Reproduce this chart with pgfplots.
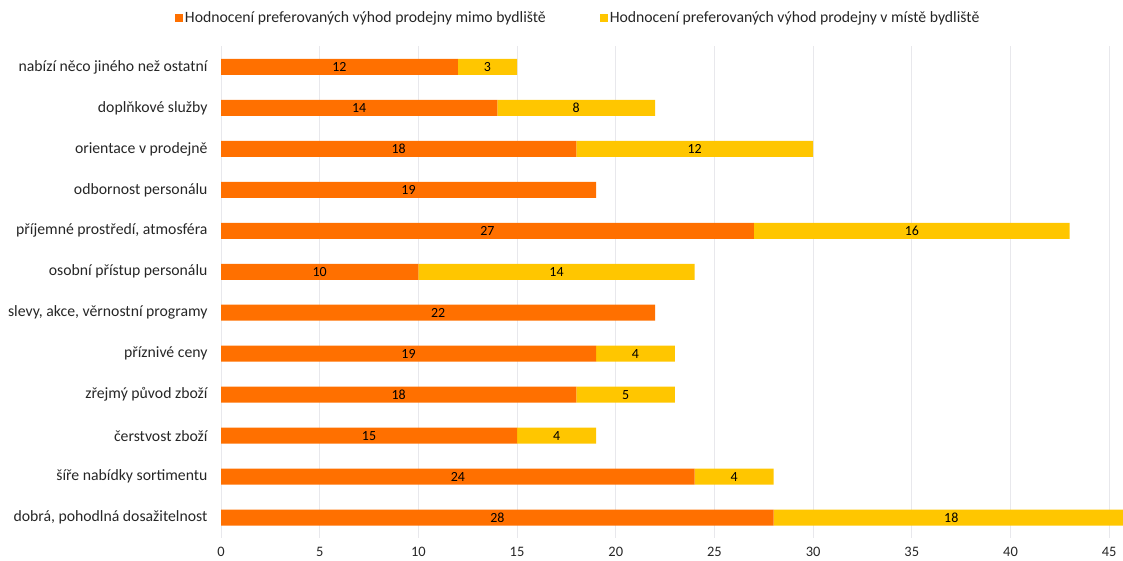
\documentclass[border=0pt]{standalone}
\usepackage{fontspec}
\setmainfont{Carlito}
\usepackage{pgfplots}
\usepackage{pgfplotstable}
\pgfplotsset{compat=1.18}

\definecolor{barOrange}{RGB}{255,112,0}
\definecolor{barYellow}{RGB}{255,198,0}
\definecolor{gridGray}{RGB}{232,232,236}
\definecolor{labelGray}{RGB}{38,38,38}

% y: row position (0 = bottom), a: mimo bydliště, b: v místě bydliště
\pgfplotstableread{
y a b
11 12 3
10 14 8
9 18 12
8 19 0
7 27 16
6 10 14
5 22 0
4 19 4
3 18 5
2 15 4
1 24 4
0 28 18
}\datatable
% centres of the two segments, used to place the value labels
\pgfplotstablecreatecol[expr={\thisrow{a}/2}]{ma}\datatable
\pgfplotstablecreatecol[expr={\thisrow{a}+\thisrow{b}/2}]{mb}\datatable

\pgfplotsset{
  common/.style={
    at={(221bp,23bp)}, anchor=south west,
    scale only axis, width=902bp, height=491.5bp,
    xmin=0, xmax=45.7, ymin=-0.5, ymax=11.5,
    /pgf/number format/assume math mode=true,
  },
}

\begin{document}
\begin{tikzpicture}[font=\fontsize{15.8}{18}\selectfont]
\path[use as bounding box] (0,0) rectangle (1123bp,561bp);
\begin{axis}[
  common,
  xbar stacked, bar width=16bp,
  axis line style={draw=none},
  major tick length=0pt,
  xtick={0,5,...,45},
  xmajorgrids, grid style={gridGray, line width=0.8pt},
  ytick={0,...,11},
  yticklabels={{dobrá, pohodlná dosažitelnost},{šíře nabídky sortimentu},{čerstvost zboží},{zřejmý původ zboží},{příznivé ceny},{slevy, akce, věrnostní programy},{osobní přístup personálu},{příjemné prostředí, atmosféra},{odbornost personálu},{orientace v prodejně},{doplňkové služby},{nabízí něco jiného než ostatní}},
  yticklabel style={text=labelGray, xshift=-10bp},
  xticklabel style={text=labelGray, yshift=-6bp, font=\fontsize{14.5}{16}\selectfont},
  legend style={at={(0.396,1.058)}, anchor=center, draw=none, fill=none,
    legend columns=2, text=labelGray,
    /tikz/every even column/.append style={column sep=52bp},
    /tikz/every odd column/.append style={column sep=0bp}},
  legend image code/.code={\fill[#1, draw=none] (0bp,-4bp) rectangle (8bp,4bp);},
  clip=true,
]
\addplot[fill=barOrange, draw=none] table[x=a, y=y] {\datatable};
\addplot[fill=barYellow, draw=none] table[x=b, y=y] {\datatable};
\legend{Hodnocení preferovaných výhod prodejny mimo bydliště, Hodnocení preferovaných výhod prodejny v místě bydliště}
\end{axis}
\begin{axis}[
  common, hide axis, clip=false,
  nodes near coords, point meta=explicit,
  every node near coord/.append style={anchor=center, text=black,
    font=\fontsize{14}{16}\selectfont},
  unbounded coords=discard,
]
\addplot[draw=none, mark=none] table[x=ma, y=y, meta=a] {\datatable};
\addplot[draw=none, mark=none, x filter/.expression={\thisrow{b}==0 ? nan : x}]
  table[x=mb, y=y, meta=b] {\datatable};
\end{axis}
\end{tikzpicture}
\end{document}
